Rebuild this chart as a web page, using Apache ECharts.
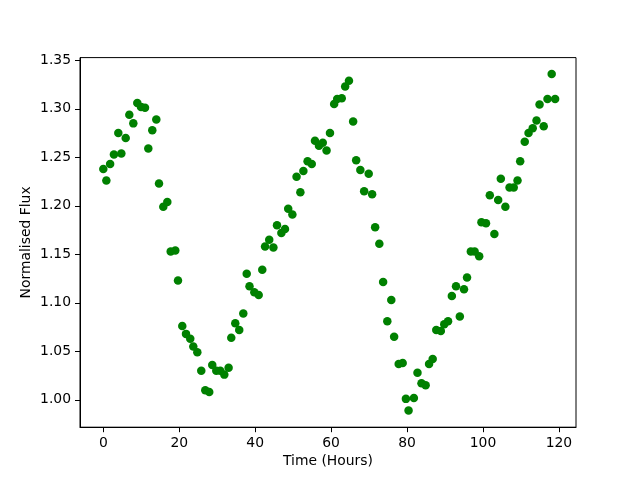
<!DOCTYPE html>
<html>
<head>
<meta charset="utf-8">
<script src="https://cdn.jsdelivr.net/npm/echarts@6/dist/echarts.min.js"></script>
<style>
  html, body { margin: 0; padding: 0; background: #fff; }
  #chart { width: 640px; height: 480px; }
</style>
</head>
<body>
<div id="chart"></div>
<script>
// time of each sample (hours)
var times = [
  0, 0.8, 1.8, 2.8, 3.95, 4.75, 5.9, 6.85, 7.9, 8.95,
  9.93, 10.98, 11.85, 12.9, 13.96, 14.67, 15.8, 16.86, 17.75, 18.96,
  19.67, 20.8, 21.78, 22.9, 23.7, 24.76, 25.8, 26.86, 27.9, 28.7,
  29.76, 30.8, 31.87, 33.0, 33.7, 34.76, 35.8, 36.87, 37.77, 38.5,
  39.77, 40.93, 41.87, 42.6, 43.7, 44.8, 45.75, 46.9, 47.85, 48.7,
  49.8, 50.9, 51.9, 52.7, 53.8, 54.9, 55.75, 56.8, 57.8, 58.8,
  59.7, 60.8, 61.6, 62.8, 63.7, 64.7, 65.8, 66.6, 67.7, 68.7,
  69.9, 70.8, 71.6, 72.7, 73.7, 74.8, 75.85, 76.6, 77.8, 78.85,
  79.7, 80.4, 81.8, 82.75, 83.8, 84.9, 85.8, 86.75, 87.7, 88.9,
  89.8, 90.8, 91.8, 92.9, 93.9, 95.0, 95.8, 96.8, 97.8, 99.0,
  99.6, 100.8, 101.8, 103.0, 104.0, 104.7, 105.9, 107.0, 108.1, 109.1,
  109.8, 111.0, 112.0, 113.1, 114.1, 114.9, 116.0, 117.0, 118.1, 119.0
];
// normalised flux
var flux = [
  1.238, 1.226, 1.243, 1.253, 1.275, 1.254, 1.270, 1.294, 1.285, 1.306,
  1.302, 1.301, 1.259, 1.278, 1.289, 1.223, 1.199, 1.204, 1.153, 1.154,
  1.123, 1.076, 1.068, 1.063, 1.055, 1.049, 1.030, 1.010, 1.008, 1.036,
  1.030, 1.030, 1.026, 1.033, 1.064, 1.079, 1.072, 1.089, 1.130, 1.117,
  1.111, 1.108, 1.134, 1.158, 1.165, 1.157, 1.180, 1.172, 1.176, 1.197,
  1.191, 1.230, 1.214, 1.236, 1.246, 1.243, 1.267, 1.262, 1.265, 1.257,
  1.275, 1.305, 1.310, 1.311, 1.323, 1.329, 1.287, 1.247, 1.237, 1.215,
  1.233, 1.212, 1.178, 1.161, 1.1215, 1.081, 1.103, 1.065, 1.037, 1.038,
  1.001, 0.989, 1.002, 1.028, 1.017, 1.015, 1.037, 1.042, 1.072, 1.071,
  1.078, 1.081, 1.107, 1.117, 1.086, 1.114, 1.126, 1.153, 1.153, 1.148,
  1.183, 1.182, 1.211, 1.171, 1.206, 1.228, 1.199, 1.219, 1.219, 1.226,
  1.246, 1.266, 1.275, 1.280, 1.288, 1.3045, 1.282, 1.310, 1.336, 1.310
];
var xTicks = [0, 20, 40, 60, 80, 100, 120];
var yTicks = [1.00, 1.05, 1.10, 1.15, 1.20, 1.25, 1.30, 1.35];

var points = times.map(function (t, i) { return [t, flux[i]]; });

var font = "DejaVu Sans";
var chart = echarts.init(document.getElementById("chart"));
var option = {
  backgroundColor: "#fff",
  animation: false,
  grid: {
    left: 80, right: 64, top: 57.6, bottom: 52.8,
    show: true, borderColor: "#000", borderWidth: 1
  },
  xAxis: {
    type: "value",
    min: -6.14, max: 124.5,
    name: "Time (Hours)",
    nameLocation: "middle",
    nameGap: 27,
    nameMoveOverlap: false,
    nameTextStyle: { color: "#000", fontFamily: font, fontSize: 13.9 },
    axisLine: { show: true, onZero: false, lineStyle: { color: "#000", width: 1 } },
    axisTick: { show: true, inside: false, length: 5, customValues: xTicks, lineStyle: { color: "#000" } },
    axisLabel: { customValues: xTicks, margin: 9, color: "#000", fontFamily: font, fontSize: 13.9 },
    splitLine: { show: false }
  },
  yAxis: {
    type: "value",
    min: 0.9718, max: 1.3528,
    name: "Normalised Flux",
    nameLocation: "middle",
    nameGap: 47,
    nameMoveOverlap: false,
    nameTextStyle: { color: "#000", fontFamily: font, fontSize: 13.9 },
    axisLine: { show: true, onZero: false, lineStyle: { color: "#000", width: 1 } },
    axisTick: { show: true, inside: false, length: 5, customValues: yTicks, lineStyle: { color: "#000" } },
    axisLabel: {
      customValues: yTicks, margin: 9, color: "#000", fontFamily: font, fontSize: 13.9,
      formatter: function (v) { return v.toFixed(2); }
    },
    splitLine: { show: false }
  },
  series: [{
    type: "scatter",
    data: points,
    symbolSize: 8.5,
    itemStyle: { color: "#008000", opacity: 1 }
  }]
};
chart.setOption(option);
</script>
</body>
</html>
